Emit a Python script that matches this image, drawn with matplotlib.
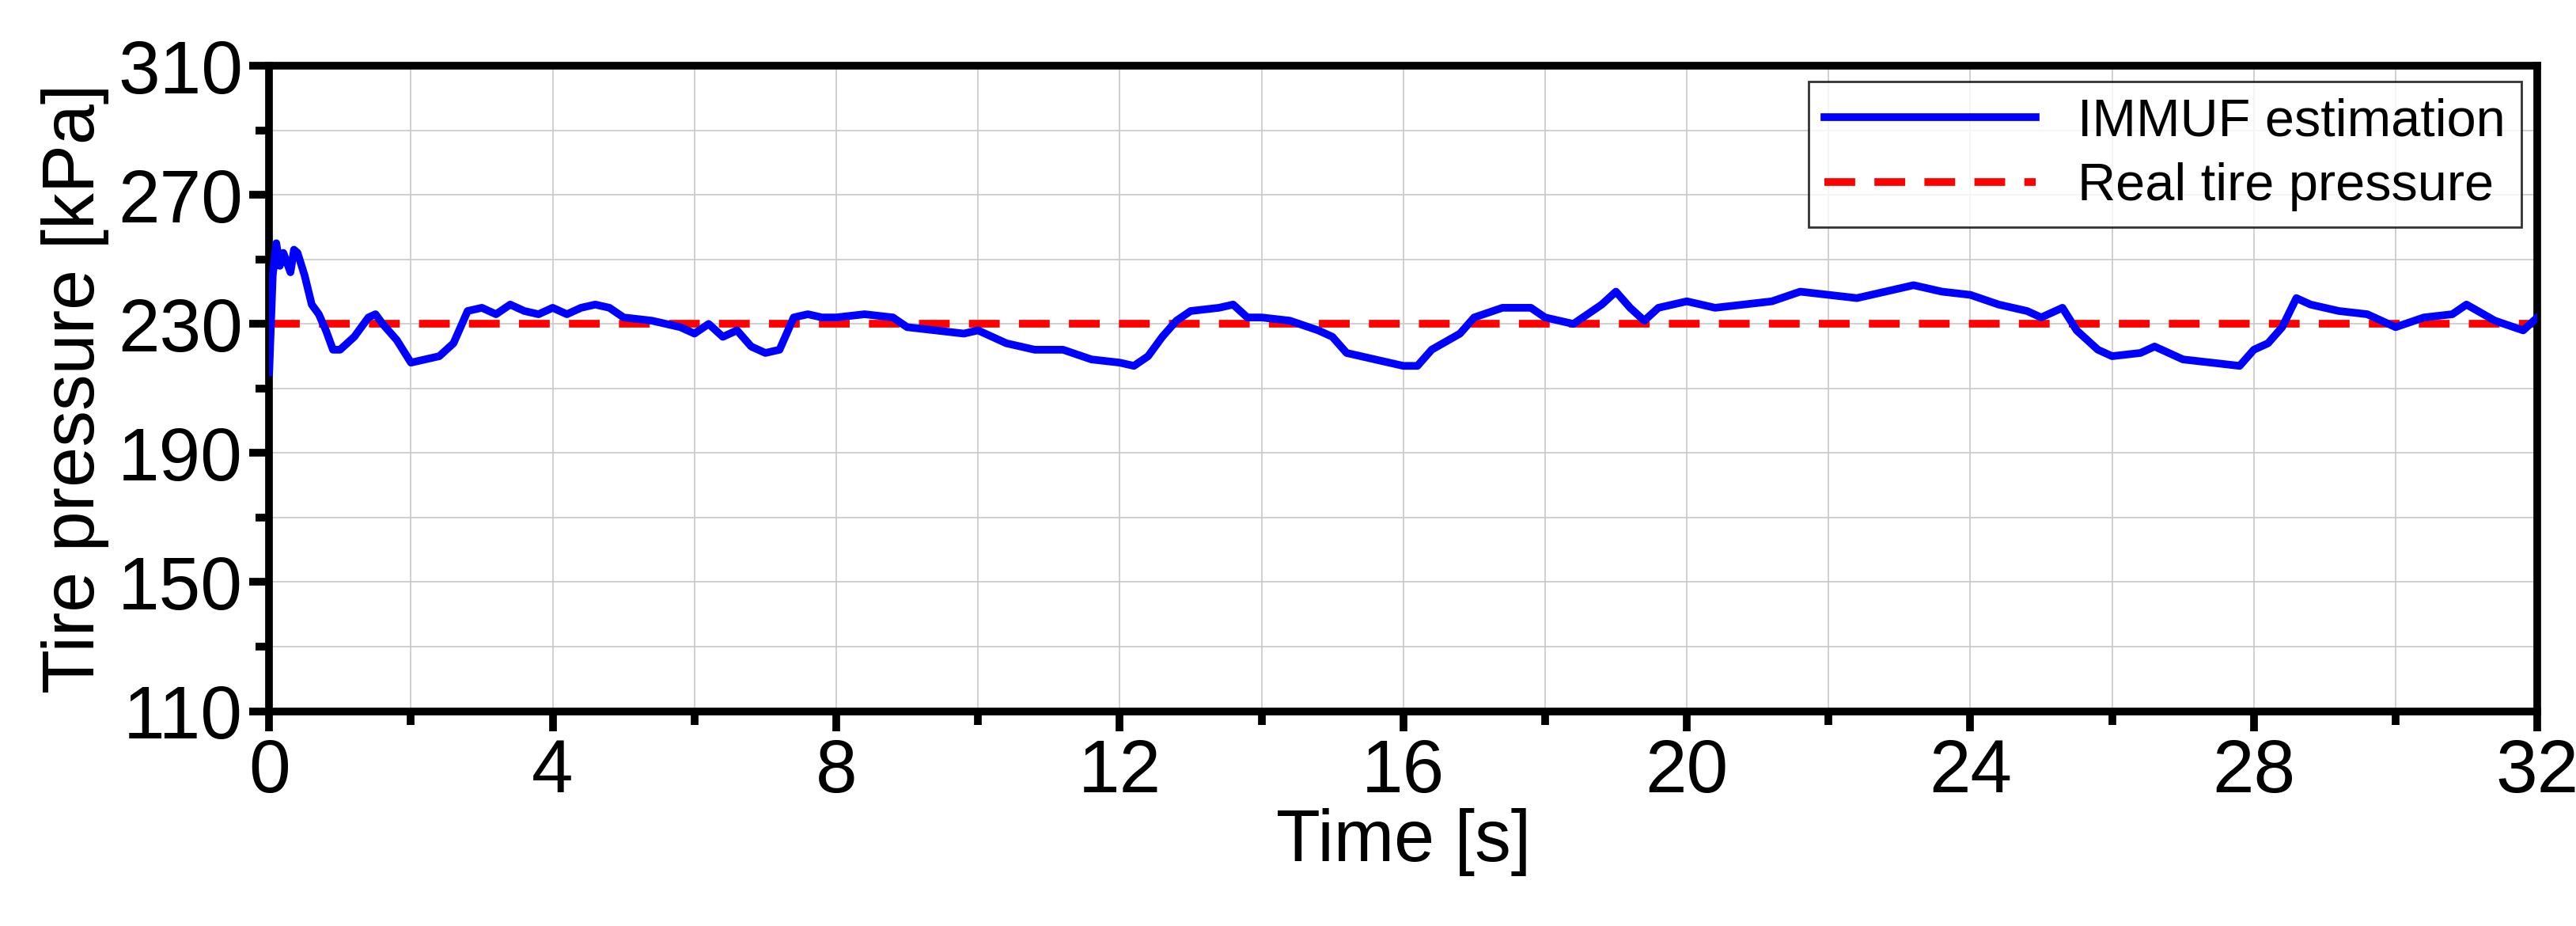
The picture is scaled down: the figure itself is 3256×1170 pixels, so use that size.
import matplotlib.pyplot as plt
import numpy as np

t = [0, 0.05, 0.1, 0.15, 0.2, 0.3, 0.35, 0.4, 0.5, 0.6, 0.7, 0.8, 0.9, 1.0, 1.1, 1.2, 1.3, 1.4, 1.5,
     1.6, 1.8, 2.0, 2.2, 2.4, 2.6, 2.8, 3.0, 3.2, 3.4, 3.6, 3.8, 4.0, 4.2, 4.4, 4.6, 4.8, 5.0,
     5.4, 5.8, 6.0, 6.2, 6.4, 6.6, 6.8, 7.0, 7.2, 7.4, 7.6, 7.8, 8.0, 8.4, 8.8, 9.0, 9.4, 9.8,
     10.0, 10.4, 10.8, 11.2, 11.6, 12.0, 12.2, 12.4, 12.6, 12.8, 13.0, 13.4, 13.6, 13.8, 14.0,
     14.4, 14.8, 15.0, 15.2, 15.6, 16.0, 16.2, 16.4, 16.8, 17.0, 17.4, 17.8, 18.0, 18.4, 18.8,
     19.0, 19.2, 19.4, 19.6, 20.0, 20.4, 20.8, 21.2, 21.6, 22.0, 22.4, 22.8, 23.2, 23.6, 24.0,
     24.4, 24.8, 25.0, 25.3, 25.5, 25.8, 26.0, 26.4, 26.6, 27.0, 27.4, 27.8, 28.0, 28.2, 28.4,
     28.6, 28.8, 29.2, 29.6, 30.0, 30.4, 30.8, 31.0, 31.4, 31.8, 32.0]
est = [215, 245, 255, 248, 252, 246, 253, 252, 245, 236, 233, 228, 222, 222, 224, 226, 229, 232, 233,
       230, 225, 218, 219, 220, 224, 234, 235, 233, 236, 234, 233, 235, 233, 235, 236, 235, 232,
       231, 229, 227, 230, 226, 228, 223, 221, 222, 232, 233, 232, 232, 233, 232, 229, 228, 227,
       228, 224, 222, 222, 219, 218, 217, 220, 226, 231, 234, 235, 236, 232, 232,
       231, 228, 226, 221, 219, 217, 217, 222, 227, 232, 235, 235, 232, 230, 236,
       240, 235, 231, 235, 237, 235, 236, 237, 240, 239, 238, 240, 242, 240, 239,
       236, 234, 232, 235, 228, 222, 220, 221, 223, 219, 218, 217, 222, 224, 229,
       238, 236, 234, 233, 229, 232, 233, 236, 231, 228, 232]
real = 230

plt.rcParams['font.family'] = ['Liberation Sans', 'DejaVu Sans']
fig = plt.figure(figsize=(32.56, 11.7), dpi=100)
ax = fig.add_axes([0.1045, 0.232, 0.8805, 0.697])

ax.plot(t, est, color='#0000ff', lw=7, label='IMMUF estimation', zorder=3)
ax.axhline(real, color='#ff0000', lw=7, ls=(0, (4, 2.5)), label='Real tire pressure', zorder=2)

ax.set_xlim(0, 32)
ax.set_ylim(110, 310)
ax.set_xticks(np.arange(0, 33, 4))
ax.set_xticks(np.arange(0, 33, 2), minor=True)
ax.set_yticks(np.arange(110, 311, 40))
ax.set_yticks(np.arange(110, 311, 20), minor=True)
ax.grid(which='both', color='#c8c8c8', lw=1.2)
ax.tick_params(which='major', direction='out', length=18, width=7, labelsize=68, pad=6)
ax.tick_params(which='minor', direction='out', length=12, width=7)
for s in ax.spines.values():
    s.set_linewidth(7)

ax.set_xlabel('Time [s]', fontsize=66, labelpad=0)
ax.set_ylabel('Tire pressure [kPa]', fontsize=66, labelpad=8)
leg = ax.legend(loc='upper right', fontsize=48, frameon=True, fancybox=False,
                edgecolor='black', handlelength=4, borderaxespad=0.3,
                borderpad=0.3, labelspacing=0.3)
leg.get_frame().set_linewidth(2)

fig.savefig('out.png', dpi=100)
